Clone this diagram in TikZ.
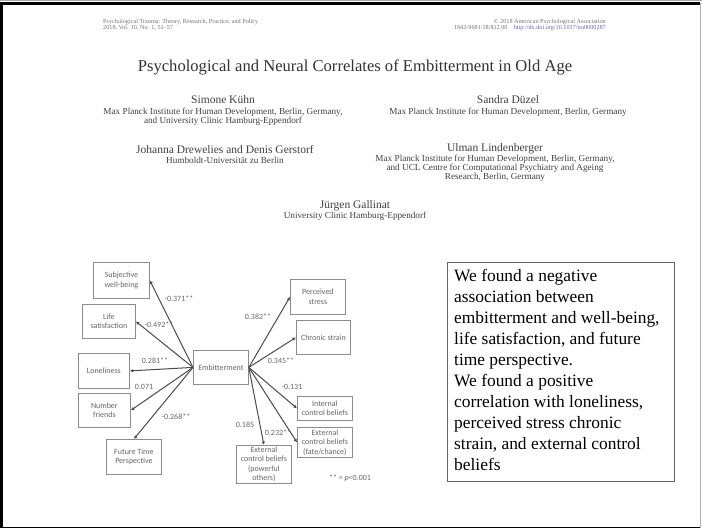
\documentclass[tikz,border=0pt]{standalone}
\usepackage{fontspec}
\setmainfont{Liberation Serif}
\newfontfamily\carlito{Carlito}
\usetikzlibrary{arrows.meta}

\tikzset{
  hdr/.style={text=black!75, align=center, inner sep=0pt},
  varbox/.style={draw=black!45, line width=0.8pt, anchor=north west, align=center,
    inner sep=1pt, text=black!60, font={\carlito\fontsize{8}{9.5}\selectfont}},
  coef/.style={text=black!60, inner sep=0pt, font={\carlito\fontsize{8}{9}\selectfont}},
  corr/.style={draw=black!70, line width=1pt, -{Latex[length=3.5pt,width=3.5pt]}}
}

\begin{document}
\begin{tikzpicture}[x=1pt,y=-1pt]

\useasboundingbox (0,0) rectangle (702,529);
\fill[white] (0,0) rectangle (702,529);

% slide frame
\draw[black!35, line width=1pt] (0,0.8) -- (702,0.8);
\draw[line width=2.5pt] (1.5,3.5) -- (700,3.5);
\draw[line width=2.5pt] (1.5,2.3) -- (1.5,528);
\draw[line width=1.6pt] (1.5,527.3) -- (701,527.3);
\draw[black!30, line width=1.2pt] (700.8,3) -- (700.8,528);

% paper header
\node [hdr, text=black!55, align=left, anchor=west, font={\fontsize{6.2}{6.2}\selectfont}] (jrnl)
 at (103,25) {Psychological Trauma: Theory, Research, Practice, and Policy\\2018, Vol. 10, No. 1, 51--57};
\node [hdr, text=black!55, align=right, anchor=east, font={\fontsize{6.2}{6.2}\selectfont}] (cprt)
 at (606,25) {\textcopyright{} 2018 American Psychological Association\\1942-9681/18/\$12.00\quad
 \textcolor{blue!45!black!60}{http://dx.doi.org/10.1037/tra0000287}};

\node [hdr, text=black!80, font={\fontsize{16.6}{18}\selectfont}] (title)
 at (355,67) {Psychological and Neural Correlates of Embitterment in Old Age};

\node [hdr, font={\fontsize{11.5}{12}\selectfont}] (kuehn) at (223,100) {Simone Kühn};
\node [hdr, font={\fontsize{9.2}{9.2}\selectfont}] (kuehnaff) at (223,116.5)
 {Max Planck Institute for Human Development, Berlin, Germany,\\and University Clinic Hamburg-Eppendorf};

\node [hdr, font={\fontsize{11.5}{12}\selectfont}] (duezel) at (508,100) {Sandra Düzel};
\node [hdr, font={\fontsize{9.2}{9.2}\selectfont}] (duezelaff) at (508,112)
 {Max Planck Institute for Human Development, Berlin, Germany};

\node [hdr, font={\fontsize{11.5}{12}\selectfont}] (drewelies) at (225,150) {Johanna Drewelies and Denis Gerstorf};
\node [hdr, font={\fontsize{9.2}{9.2}\selectfont}] (dreweliesaff) at (225,160) {Humboldt-Universität zu Berlin};

\node [hdr, font={\fontsize{11.5}{12}\selectfont}] (lindenberger) at (495,149) {Ulman Lindenberger};
\node [hdr, font={\fontsize{9.2}{9.2}\selectfont}] (lindenbergeraff) at (495,168.5)
 {Max Planck Institute for Human Development, Berlin, Germany,\\and UCL Centre for Computational Psychiatry and Ageing\\Research, Berlin, Germany};

\node [hdr, font={\fontsize{11.5}{12}\selectfont}] (gallinat) at (355,206) {Jürgen Gallinat};
\node [hdr, font={\fontsize{9.2}{9.2}\selectfont}] (gallinataff) at (355,216) {University Clinic Hamburg-Eppendorf};

% path diagram
\node [varbox, minimum width=56pt, minimum height=36pt] (swb) at (93,262) {Subjective\\well-being};
\node [varbox, minimum width=53pt, minimum height=34pt] (life) at (82,304) {Life\\satisfaction};
\node [varbox, minimum width=51pt, minimum height=35pt] (lone) at (78,353) {Loneliness};
\node [varbox, minimum width=52pt, minimum height=34pt] (numf) at (78,393) {Number\\friends};
\node [varbox, minimum width=55pt, minimum height=35pt] (ftp) at (106,439) {Future Time\\Perspective};

\node [varbox, minimum width=55pt, minimum height=34pt] (emb) at (193,350) {Embitterment};

\node [varbox, minimum width=55pt, minimum height=35pt] (pstr) at (290,279) {Perceived\\stress};
\node [varbox, minimum width=54pt, minimum height=34pt] (chron) at (296,320) {Chronic strain};
\node [varbox, minimum width=55pt, minimum height=24pt] (intc) at (297,396) {Internal\\control beliefs};
\node [varbox, minimum width=55pt, minimum height=30pt] (extf) at (297,427) {External\\control beliefs\\(fate/chance)};
\node [varbox, minimum width=55pt, minimum height=38pt] (extp) at (236,445) {External\\control beliefs\\(powerful\\others)};

\draw [corr] (emb.west) -- (swb.east);
\draw [corr] (emb.west) -- (life.east);
\draw [corr] (emb.west) -- (lone.east);
\draw [corr] (emb.west) -- (numf.east);
\draw [corr] (emb.west) -- (ftp.north);
\draw [corr] (emb.east) -- (pstr.west);
\draw [corr] (emb.east) -- (chron.west);
\draw [corr] (emb.east) -- (intc.west);
\draw [corr] (emb.east) -- (extf.west);
\draw [corr] (emb.east) -- (extp.north);

\node [coef] (cswb) at (179,299) {-0.371**};
\node [coef] (clife) at (159,325) {-0.492**};
\node [coef] (clone) at (155,361) {0.281**};
\node [coef] (cnumf) at (144,387) {0.071};
\node [coef] (cftp) at (176,417) {-0.268**};
\node [coef] (cpstr) at (258,317) {0.382**};
\node [coef] (cchron) at (281,361) {0.345**};
\node [coef] (cintc) at (292,387) {-0.131};
\node [coef] (cextf) at (278,433) {0.232**};
\node [coef] (cextp) at (245,425) {0.185};
\node [coef] (sig) at (350,478) {** = \textit{p}<0.001};

% summary text
\node [draw=black!60, line width=0.8pt, anchor=north west, minimum width=227pt, minimum height=219pt,
 inner sep=0pt] (sumbox) at (447,262) {};
\node [anchor=north west, align=left, inner sep=0pt, font={\fontsize{17.4}{21}\selectfont}] (sumtext)
 at (454,269) {We found a negative\\association between\\embitterment and well-being,\\life satisfaction, and future\\time perspective.\\We found a positive\\correlation with loneliness,\\perceived stress chronic\\strain, and external control\\beliefs};

\end{tikzpicture}
\end{document}
